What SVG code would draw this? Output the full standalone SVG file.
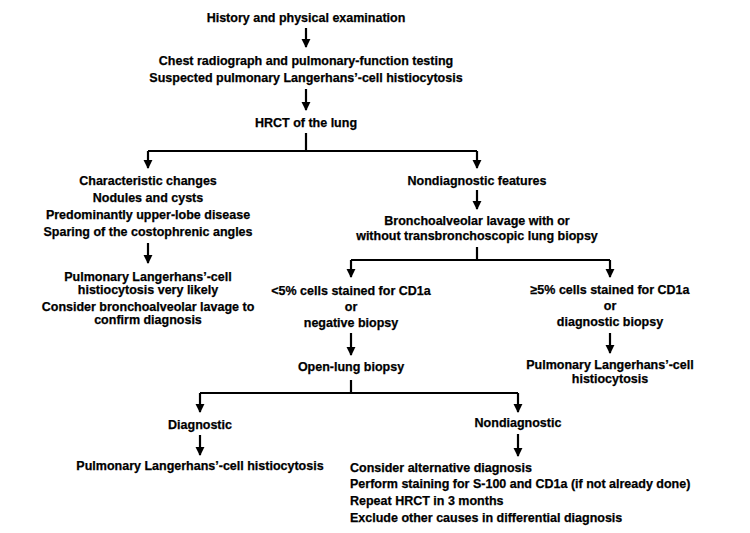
<svg xmlns="http://www.w3.org/2000/svg" width="750" height="533" viewBox="0 0 750 533">
<style>
text{font-family:"Liberation Sans",Arial,sans-serif;font-weight:bold;font-size:12.5px;fill:#000;stroke:#000;stroke-width:0.25;text-anchor:middle}
.l{text-anchor:start}
.c{fill:none;stroke:#000;stroke-width:2.2}
</style>
<defs>
<marker id="a" viewBox="0 0 10 10" refX="9" refY="5" markerWidth="4.2" markerHeight="4.2" orient="auto" markerUnits="strokeWidth"><path d="M0,0 L10,5 L0,10 z" fill="#000"/></marker>
</defs>
<rect width="750" height="533" fill="#fff"/>
<g id="connectors">
<path class="c" d="M306,28 V47" marker-end="url(#a)"/>
<path class="c" d="M306,89 V110" marker-end="url(#a)"/>
<path class="c" d="M306,133 V151 M148,151 H477"/>
<path class="c" d="M148,151 V168" marker-end="url(#a)"/>
<path class="c" d="M477,151 V168" marker-end="url(#a)"/>
<path class="c" d="M148,243 V263" marker-end="url(#a)"/>
<path class="c" d="M477,190 V209" marker-end="url(#a)"/>
<path class="c" d="M477,247 V260 M351,260 H610"/>
<path class="c" d="M351,260 V277" marker-end="url(#a)"/>
<path class="c" d="M610,260 V277" marker-end="url(#a)"/>
<path class="c" d="M351,333 V355" marker-end="url(#a)"/>
<path class="c" d="M610,333 V353" marker-end="url(#a)"/>
<path class="c" d="M351,380 V393 M200,393 H518"/>
<path class="c" d="M200,393 V412" marker-end="url(#a)"/>
<path class="c" d="M518,393 V412" marker-end="url(#a)"/>
<path class="c" d="M200,435 V455" marker-end="url(#a)"/>
<path class="c" d="M518,434 V456" marker-end="url(#a)"/>
</g>
<g id="n1"><text x="306" y="22">History and physical examination</text></g>
<g id="n2"><text x="306" y="65">Chest radiograph and pulmonary-function testing</text><text x="306" y="82">Suspected pulmonary Langerhans’-cell histiocytosis</text></g>
<g id="n3"><text x="306" y="127">HRCT of the lung</text></g>
<g id="n4"><text x="148" y="185">Characteristic changes</text><text x="148" y="202">Nodules and cysts</text><text x="148" y="219">Predominantly upper-lobe disease</text><text x="148" y="236">Sparing of the costophrenic angles</text></g>
<g id="n5"><text x="148" y="281">Pulmonary Langerhans’-cell</text><text x="148" y="294">histiocytosis very likely</text><text x="148" y="311">Consider bronchoalveolar lavage to</text><text x="148" y="324">confirm diagnosis</text></g>
<g id="n6"><text x="477" y="185">Nondiagnostic features</text></g>
<g id="n7"><text x="477" y="225">Bronchoalveolar lavage with or</text><text x="477" y="240">without transbronchoscopic lung biopsy</text></g>
<g id="n8"><text x="351" y="295">&lt;5% cells stained for CD1a</text><text x="351" y="311">or</text><text x="351" y="327">negative biopsy</text></g>
<g id="n9"><text x="610" y="294">≥5% cells stained for CD1a</text><text x="610" y="310">or</text><text x="610" y="326">diagnostic biopsy</text></g>
<g id="n10"><text x="351" y="371">Open-lung biopsy</text></g>
<g id="n11"><text x="610" y="369">Pulmonary Langerhans’-cell</text><text x="610" y="383">histiocytosis</text></g>
<g id="n12"><text x="200" y="429">Diagnostic</text></g>
<g id="n13"><text x="200" y="470">Pulmonary Langerhans’-cell histiocytosis</text></g>
<g id="n14"><text x="518" y="427">Nondiagnostic</text></g>
<g id="n15"><text class="l" x="350" y="472">Consider alternative diagnosis</text><text class="l" x="350" y="488">Perform staining for S-100 and CD1a (if not already done)</text><text class="l" x="350" y="505">Repeat HRCT in 3 months</text><text class="l" x="350" y="522">Exclude other causes in differential diagnosis</text></g>
</svg>
